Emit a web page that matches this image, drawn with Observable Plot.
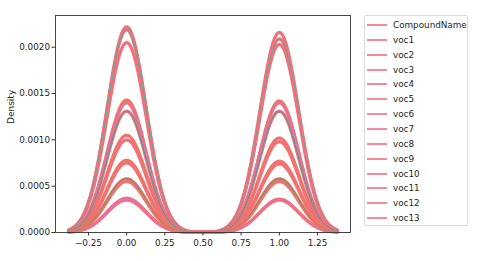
<!DOCTYPE html>
<html>
<head>
<meta charset="utf-8">
<script src="https://cdn.jsdelivr.net/npm/d3@7"></script>
<script src="https://cdn.jsdelivr.net/npm/@observablehq/plot@0.6"></script>
<style>
  html, body { margin: 0; padding: 0; background: #fff; }
  #wrap { position: relative; width: 480px; height: 261px; overflow: hidden; font-family: "DejaVu Sans", sans-serif; }
  #legend { position: absolute; left: 364px; top: 15px; width: 104px; height: 211px; border: 1px solid #dcdcdc; border-radius: 2px; box-sizing: border-box; }
  .item { position: absolute; left: 0; height: 14px; font-size: 8.8px; line-height: 14px; color: #262626; white-space: nowrap; }
  .sw { position: absolute; left: 2px; top: 6px; width: 20px; height: 2px; background: #f6899b; }
  .lbl { position: absolute; left: 28px; top: 0; }
</style>
</head>
<body>
<div id="wrap"><div id="legend"></div></div>
<script>
// Series (hue levels)
const seriesNames = ["CompoundName","voc1","voc2","voc3","voc4","voc5","voc6","voc7","voc8","voc9","voc10","voc11","voc12","voc13"];
// Peak density near value 0 and near value 1
const peakAt0 = [0.00222,0.00219,0.00205,0.00143,0.00140,0.00131,0.00105,0.00100,0.00078,0.00075,0.00058,0.00055,0.00037,0.00035];
const peakAt1 = [0.00216,0.00209,0.00203,0.00142,0.00140,0.00131,0.00102,0.00098,0.00077,0.00074,0.00058,0.00055,0.00036,0.00035];
// KDE kernel bandwidth and evaluation extent
const bandwidth = 0.128;
const extent = [-0.38, 1.38];
// Axis ticks
const xTicks = [-0.25, 0, 0.25, 0.5, 0.75, 1, 1.25];
const yTicks = [0, 0.0005, 0.001, 0.0015, 0.002];

const seriesColors = ["#f4707c","#55b09a","#f4707c","#e8803c","#d66fe0","#3aa88c","#e8803c","#f4707c","#e8803c","#f4707c","#4aa45a","#e8803c","#d66fe0","#f4707c"];

const grid = d3.range(extent[0], extent[1] + 1e-9, 0.01);
const rows = [];
seriesNames.forEach((s, i) => {
  for (const x of grid) {
    const y = peakAt0[i] * Math.exp(-(x * x) / (2 * bandwidth * bandwidth)) +
              peakAt1[i] * Math.exp(-((x - 1) * (x - 1)) / (2 * bandwidth * bandwidth));
    rows.push({series: s, x, y});
  }
});

const chart = Plot.plot({
  width: 480,
  height: 261,
  marginLeft: 55,
  marginRight: 130,
  marginTop: 15,
  marginBottom: 29,
  style: {fontFamily: "DejaVu Sans, sans-serif", fontSize: "8.8px", color: "#262626", background: "transparent"},
  x: {domain: [-0.466, 1.466]},
  y: {domain: [0, 0.002342]},
  color: {domain: seriesNames, range: seriesColors},
  marks: [
    Plot.line(rows, {x: "x", y: "y", z: "series", stroke: "#f3707b", strokeWidth: 3.2}),
    Plot.line(rows, {x: "x", y: "y", z: "series", stroke: "series", strokeWidth: 1.0}),
    Plot.frame({stroke: "#333", strokeWidth: 0.9}),
    Plot.axisX({ticks: xTicks, tickFormat: d3.format(".2f"), tickSize: 3.5, tickPadding: 4, label: null, stroke: "#333"}),
    Plot.axisY({ticks: yTicks, tickFormat: d3.format(".4f"), tickSize: 3.5, tickPadding: 2, label: null, stroke: "#333"}),
    Plot.text(["Density"], {frameAnchor: "left", rotate: -90, dx: -44, fontSize: 9, fill: "#262626"})
  ]
});
chart.style.position = "absolute";
chart.style.left = "0px";
chart.style.top = "0px";
document.getElementById("wrap").prepend(chart);

const legend = document.getElementById("legend");
seriesNames.forEach((s, i) => {
  const it = document.createElement("div");
  it.className = "item";
  it.style.top = (2 + i * 14.85) + "px";
  it.innerHTML = '<span class="sw"></span><span class="lbl">' + s + '</span>';
  legend.appendChild(it);
});
</script>
</body>
</html>
